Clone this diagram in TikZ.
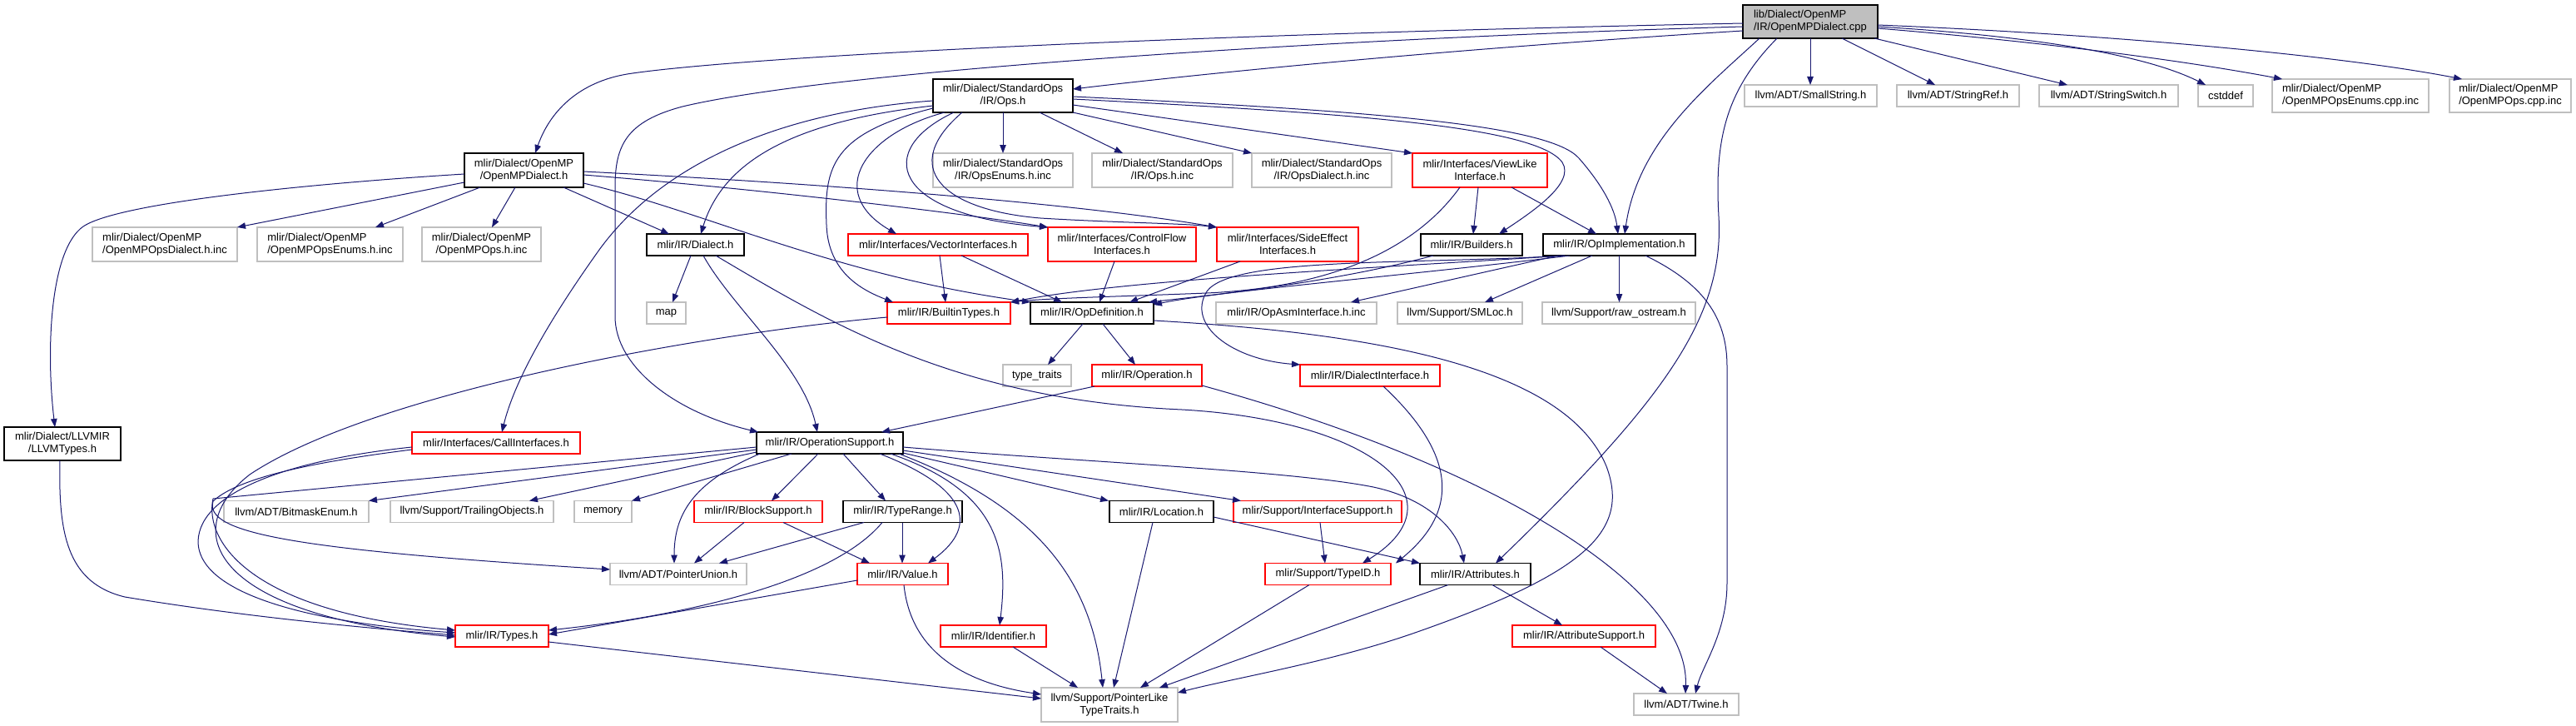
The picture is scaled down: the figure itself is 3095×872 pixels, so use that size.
\documentclass[tikz,border=0pt]{standalone}
\usepackage{fontspec}
\setmainfont{Liberation Sans}
\usetikzlibrary{arrows.meta}
\definecolor{edgeblue}{HTML}{191970}
\definecolor{extgray}{HTML}{BFBFBF}
\definecolor{rootgray}{HTML}{BFBFBF}
\definecolor{truncred}{HTML}{FF0000}
\newcommand\nfs{\fontsize{13}{15}\selectfont}
\begin{document}
\begin{tikzpicture}[x=1pt,y=-1pt,
 nbase/.style={rectangle,inner sep=0pt,outer sep=0pt,font=\nfs,align=center,line width=1.3pt},
 doc/.style={nbase,draw=black},
 trunc/.style={nbase,draw=truncred},
 ext/.style={nbase,draw=extgray},
 root/.style={nbase,draw=black,fill=rootgray},
 e/.style={draw=edgeblue,line width=1pt,-{Triangle[length=10pt,width=7.5pt]}},
 box/.style 2 args={minimum width=#1pt,minimum height=#2pt}
]
\fill[white] (0,0) rectangle (3095,872);
\useasboundingbox (0,0) rectangle (3095,872);

% ---------------- nodes ----------------
\node[root,box={162}{40},align=left] (cpp) at (2175,26) {lib/Dialect/OpenMP\\/IR/OpenMPDialect.cpp};
\node[doc,box={168}{40}] (ops) at (1205,115) {mlir/Dialect/StandardOps\\/IR/Ops.h};
\node[ext,box={159}{26}] (smallstr) at (2175.5,115) {llvm/ADT/SmallString.h};
\node[ext,box={147}{26}] (stringref) at (2352.5,115) {llvm/ADT/StringRef.h};
\node[ext,box={167}{26}] (stringsw) at (2533.5,115) {llvm/ADT/StringSwitch.h};
\node[ext,box={66}{26}] (cstddef) at (2674,115) {cstddef};
\node[ext,box={188}{40},align=left] (enumscpp) at (2824,115) {mlir/Dialect/OpenMP\\/OpenMPOpsEnums.cpp.inc};
\node[ext,box={146}{40},align=left] (opscpp) at (3016,115) {mlir/Dialect/OpenMP\\/OpenMPOps.cpp.inc};
\node[doc,box={143}{41}] (ompdialect) at (629.5,204.5) {mlir/Dialect/OpenMP\\/OpenMPDialect.h};
\node[ext,box={168}{41}] (stdenums) at (1205,204.5) {mlir/Dialect/StandardOps\\/IR/OpsEnums.h.inc};
\node[ext,box={169}{41}] (stdopsinc) at (1396.5,204.5) {mlir/Dialect/StandardOps\\/IR/Ops.h.inc};
\node[ext,box={168}{41}] (stddialinc) at (1588,204.5) {mlir/Dialect/StandardOps\\/IR/OpsDialect.h.inc};
\node[trunc,box={162}{41}] (viewlike) at (1778,204.5) {mlir/Interfaces/ViewLike\\Interface.h};
\node[ext,box={174}{41},align=left] (ompdialinc) at (198,293.5) {mlir/Dialect/OpenMP\\/OpenMPOpsDialect.h.inc};
\node[ext,box={175}{41},align=left] (ompenumsinc) at (396.5,293.5) {mlir/Dialect/OpenMP\\/OpenMPOpsEnums.h.inc};
\node[ext,box={143}{41}] (ompopsinc) at (578.5,293.5) {mlir/Dialect/OpenMP\\/OpenMPOps.h.inc};
\node[doc,box={117}{26}] (dialect) at (835.5,294) {mlir/IR/Dialect.h};
\node[trunc,box={216}{26}] (vector) at (1127,294) {mlir/Interfaces/VectorInterfaces.h};
\node[trunc,box={178}{41}] (controlflow) at (1348,293.5) {mlir/Interfaces/ControlFlow\\Interfaces.h};
\node[trunc,box={170}{41}] (sideeffect) at (1547,293.5) {mlir/Interfaces/SideEffect\\Interfaces.h};
\node[doc,box={122}{26}] (builders) at (1768,294) {mlir/IR/Builders.h};
\node[doc,box={183}{26}] (opimpl) at (1945.5,294) {mlir/IR/OpImplementation.h};
\node[ext,box={47}{26}] (map) at (800.5,376) {map};
\node[trunc,box={148}{26}] (builtin) at (1140,376) {mlir/IR/BuiltinTypes.h};
\node[doc,box={148}{26}] (opdef) at (1312,376) {mlir/IR/OpDefinition.h};
\node[ext,box={193}{26}] (opasm) at (1557.5,376) {mlir/IR/OpAsmInterface.h.inc};
\node[ext,box={150}{26}] (smloc) at (1754,376) {llvm/Support/SMLoc.h};
\node[ext,box={184}{26}] (rawos) at (1945,376) {llvm/Support/raw\_ostream.h};
\node[ext,box={82}{26}] (typetraits) at (1246,451) {type\_traits};
\node[trunc,box={132}{26}] (operation) at (1378,451) {mlir/IR/Operation.h};
\node[trunc,box={168}{26}] (dialiface) at (1646,451) {mlir/IR/DialectInterface.h};
\node[doc,box={140}{40}] (llvmtypes) at (75,533) {mlir/Dialect/LLVMIR\\/LLVMTypes.h};
\node[trunc,box={202}{26}] (callif) at (596,532) {mlir/Interfaces/CallInterfaces.h};
\node[doc,box={176}{26}] (opsupport) at (997,532) {mlir/IR/OperationSupport.h};
\node[ext,box={174}{26}] (bitmask) at (356,614.5) {llvm/ADT/BitmaskEnum.h};
\node[ext,box={196}{26}] (trailing) at (567,614.5) {llvm/Support/TrailingObjects.h};
\node[ext,box={69}{26}] (memory) at (724.5,614.5) {memory};
\node[trunc,box={154}{26}] (blocksupport) at (911,614.5) {mlir/IR/BlockSupport.h};
\node[doc,box={143}{26}] (typerange) at (1084.5,614.5) {mlir/IR/TypeRange.h};
\node[doc,box={125}{26}] (location) at (1395.5,614.5) {mlir/IR/Location.h};
\node[trunc,box={202}{26}] (ifacesupport) at (1583,614.5) {mlir/Support/InterfaceSupport.h};
\node[ext,box={164}{26}] (pointerunion) at (815,689.5) {llvm/ADT/PointerUnion.h};
\node[trunc,box={109}{26}] (value) at (1084.5,689.5) {mlir/IR/Value.h};
\node[trunc,box={151}{26}] (typeid) at (1595.5,689.5) {mlir/Support/TypeID.h};
\node[doc,box={133}{26}] (attributes) at (1772.5,689.5) {mlir/IR/Attributes.h};
\node[trunc,box={112}{26}] (types) at (603,764) {mlir/IR/Types.h};
\node[trunc,box={127}{26}] (identifier) at (1193.5,764) {mlir/IR/Identifier.h};
\node[trunc,box={172}{26}] (attrsupport) at (1903,764) {mlir/IR/AttributeSupport.h};
\node[ext,box={164}{41}] (ptrlike) at (1333,846.5) {llvm/Support/PointerLike\\TypeTraits.h};
\node[ext,box={126}{26}] (twine) at (2026,846) {llvm/ADT/Twine.h};

% ---------------- edges: cpp ----------------
\draw[e] (cpp.west |- 0,28) .. controls (1400,42) and (900,68) .. (760,88) .. controls (700,96) and (662,130) .. (ompdialect.north -| 643,0);
\draw[e] (cpp.west |- 0,37) .. controls (1800,55) and (1500,82) .. (ops.east |- 0,107);
\draw[e] (cpp.west |- 0,32) .. controls (1600,46) and (1000,85) .. (820,128) .. controls (752,146) and (739,175) .. (739,225) -- (739,380) .. controls (739,440) and (810,495) .. (opsupport.north -| 911,0);
\draw[e] (cpp.south -| 2175,0) -- (smallstr.north -| 2175,0);
\draw[e] (cpp.south -| 2213,0) -- (stringref.north -| 2325,0);
\draw[e] (cpp.south -| 2252,0) -- (stringsw.north -| 2484,0);
\draw[e] (cpp.east |- 0,32) .. controls (2420,42) and (2570,62) .. (cstddef.north -| 2650,0);
\draw[e] (cpp.east |- 0,34) .. controls (2450,50) and (2620,72) .. (enumscpp.north -| 2742,0);
\draw[e] (cpp.east |- 0,30) .. controls (2550,42) and (2820,68) .. (opscpp.north -| 2958,0);
\draw[e] (cpp.south -| 2114,0) .. controls (2050,105) and (1968,170) .. (opimpl.north -| 1952,0);
\draw[e] (cpp.south -| 2135,0) .. controls (2072,110) and (2060,170) .. (2065,260) .. controls (2072,380) and (2000,480) .. (attributes.north -| 1797,0);

% ---------------- edges: Ops.h ----------------
\draw[e] (ops.south) -- (stdenums.north);
\draw[e] (ops.south -| 1249,0) -- (stdopsinc.north -| 1349,0);
\draw[e] (ops.south east) -- (stddialinc.north west);
\draw[e] (ops.east |- 0,126) -- (viewlike.north west);
\draw[e] (ops.east |- 0,119) .. controls (1600,135) and (1845,150) .. (1877,195) .. controls (1893,220) and (1840,255) .. (builders.north -| 1801,0);
\draw[e] (ops.east |- 0,116) .. controls (1650,133) and (1862,150) .. (1897,190) .. controls (1925,222) and (1940,250) .. (opimpl.north -| 1944,0);
\draw[e] (ops.south -| 1135,0) .. controls (1040,160) and (990,230) .. (vector.north -| 1077,0);
\draw[e] (ops.south -| 1146,0) .. controls (1050,180) and (1070,258) .. (controlflow.north west);
\draw[e] (ops.south -| 1156,0) .. controls (1080,200) and (1130,252) .. (1250,262) .. controls (1350,268) and (1420,268) .. (sideeffect.north west);
\draw[e] (ops.west |- 0,130) .. controls (1000,160) and (990,200) .. (993,270) .. controls (995,330) and (1040,350) .. (builtin.north -| 1073,0);
\draw[e] (ops.west |- 0,127) .. controls (960,145) and (870,190) .. (dialect.north -| 842,0);
\draw[e] (ops.west |- 0,121) .. controls (950,133) and (800,190) .. (720,300) .. controls (670,370) and (620,450) .. (callif.north -| 603,0);

% ---------------- edges: OpenMPDialect.h ----------------
\draw[e] (ompdialect.west |- 0,209) .. controls (350,222) and (140,245) .. (100,272) .. controls (60,300) and (55,420) .. (llvmtypes.north -| 66,0);
\draw[e] (ompdialect.west |- 0,219) -- (ompdialinc.north east);
\draw[e] (ompdialect.south -| 577,0) -- (ompenumsinc.north -| 451,0);
\draw[e] (ompdialect.south -| 619,0) -- (ompopsinc.north -| 591,0);
\draw[e] (ompdialect.south -| 677,0) -- (dialect.north -| 804,0);
\draw[e] (ompdialect.east |- 0,210) .. controls (900,226) and (1150,255) .. (controlflow.north west);
\draw[e] (ompdialect.east |- 0,206) .. controls (1000,221) and (1300,245) .. (sideeffect.north west);
\draw[e] (ompdialect.east |- 0,220) .. controls (850,255) and (1000,330) .. (opdef.north west);

% ---------------- edges: misc upper ----------------
\draw[e] (llvmtypes.south -| 72,0) .. controls (70,640) and (80,700) .. (150,717) .. controls (300,742) and (450,755) .. (types.west |- 0,763);
\draw[e] (dialect.south -| 830,0) -- (map.north -| 808,0);
\draw[e] (dialect.south -| 845,0) .. controls (880,370) and (965,440) .. (opsupport.north -| 982,0);
\draw[e] (dialect.south -| 860,0) .. controls (1000,390) and (1150,480) .. (1420,492) .. controls (1650,505) and (1760,600) .. (typeid.north -| 1637,0);
\draw[e] (vector.south -| 1129,0) -- (builtin.north -| 1136,0);
\draw[e] (vector.south -| 1155,0) -- (opdef.north -| 1276,0);
\draw[e] (controlflow.south -| 1339,0) -- (opdef.north -| 1321,0);
\draw[e] (sideeffect.south -| 1490,0) -- (opdef.north -| 1357,0);
\draw[e] (viewlike.south -| 1776,0) -- (builders.north -| 1770,0);
\draw[e] (viewlike.south -| 1816,0) -- (opimpl.north -| 1918,0);
\draw[e] (viewlike.south -| 1754,0) .. controls (1700,300) and (1600,345) .. (1450,352) .. controls (1350,356) and (1260,358) .. (builtin.north east);
\draw[e] (builders.south -| 1722,0) .. controls (1600,340) and (1450,355) .. (opdef.north -| 1380,0);
\draw[e] (opimpl.south -| 1886,0) .. controls (1700,330) and (1460,350) .. (opdef.east |- 0,366);
\draw[e] (opimpl.south -| 1880,0) .. controls (1650,322) and (1350,336) .. (builtin.north east);
\draw[e] (opimpl.south -| 1880,0) .. controls (1700,318) and (1480,308) .. (1450,350) .. controls (1425,390) and (1480,432) .. (dialiface.north west);
\draw[e] (opimpl.south -| 1872,0) -- (opasm.north -| 1623,0);
\draw[e] (opimpl.south -| 1913,0) -- (smloc.north -| 1784,0);
\draw[e] (opimpl.south) -- (rawos.north -| 1945.5,0);
\draw[e] (opimpl.south -| 1977,0) .. controls (2045,340) and (2075,380) .. (2075,440) -- (2075,700) .. controls (2075,760) and (2045,800) .. (twine.north -| 2037,0);
\draw[e] (opdef.south -| 1301,0) -- (typetraits.north -| 1259,0);
\draw[e] (opdef.south -| 1325,0) -- (operation.north -| 1364,0);
\draw[e] (opdef.east |- 0,385) .. controls (1650,400) and (1880,440) .. (1930,560) .. controls (1960,640) and (1900,690) .. (1700,760) .. controls (1600,795) and (1480,815) .. (ptrlike.east |- 0,832);
\draw[e] (operation.south -| 1315,0) -- (opsupport.north -| 1059,0);
\draw[e] (operation.east |- 0,463) .. controls (1780,555) and (2030,700) .. (twine.north -| 2025,0);
\draw[e] (dialiface.south -| 1662,0) .. controls (1765,560) and (1740,625) .. (typeid.north -| 1677,0);

% ---------------- edges: OperationSupport.h ----------------
\draw[e] (opsupport.west |- 0,540) -- (bitmask.north east);
\draw[e] (opsupport.west |- 0,543) -- (trailing.north -| 636,0);
\draw[e] (opsupport.south -| 951,0) -- (memory.north east);
\draw[e] (opsupport.south -| 983,0) -- (blocksupport.north -| 927,0);
\draw[e] (opsupport.south -| 913,0) .. controls (830,580) and (810,620) .. (pointerunion.north -| 810,0);
\draw[e] (opsupport.west |- 0,537) -- (256,599) .. controls (245,650) and (300,735) .. (types.west |- 0,757);
\draw[e] (opsupport.south -| 1013,0) -- (typerange.north -| 1064,0);
\draw[e] (opsupport.south -| 1057,0) .. controls (1160,585) and (1178,630) .. (value.north -| 1115,0);
\draw[e] (opsupport.south -| 1070,0) .. controls (1200,590) and (1212,660) .. (identifier.north -| 1201,0);
\draw[e] (opsupport.south -| 1080,0) .. controls (1250,610) and (1312,700) .. (ptrlike.north -| 1325,0);
\draw[e] (opsupport.east |- 0,544) -- (location.north -| 1332,0);
\draw[e] (opsupport.east |- 0,541) -- (ifacesupport.north -| 1491,0);
\draw[e] (opsupport.east |- 0,537) .. controls (1300,555) and (1550,565) .. (1650,585) .. controls (1720,600) and (1752,640) .. (attributes.north -| 1759,0);

% ---------------- edges: lower ----------------
\draw[e] (callif.west |- 0,540) .. controls (400,552) and (290,570) .. (256,602) .. controls (245,640) and (350,660) .. (pointerunion.west |- 0,684);
\draw[e] (callif.west |- 0,537) .. controls (350,552) and (240,590) .. (238,650) .. controls (238,720) and (400,750) .. (types.west |- 0,760);
\draw[e] (builtin.west |- 0,381) .. controls (850,400) and (450,470) .. (300,570) .. controls (210,640) and (260,740) .. (types.west |- 0,765);
\draw[e] (ifacesupport.south -| 1586,0) -- (typeid.north -| 1592,0);
\draw[e] (typerange.south -| 1038,0) -- (pointerunion.north -| 864,0);
\draw[e] (typerange.south -| 1084,0) -- (value.north -| 1084,0);
\draw[e] (typerange.south -| 1060,0) .. controls (1000,700) and (820,740) .. (types.east |- 0,757);
\draw[e] (blocksupport.south -| 941,0) -- (value.north -| 1045,0);
\draw[e] (blocksupport.south -| 894,0) -- (pointerunion.north -| 834,0);
\draw[e] (value.west |- 0,697) -- (types.east |- 0,762);
\draw[e] (value.south -| 1086,0) .. controls (1095,790) and (1170,822) .. (ptrlike.west |- 0,834);
\draw[e] (location.south -| 1385,0) -- (ptrlike.north -| 1338,0);
\draw[e] (location.east |- 0,621) -- (attributes.north west);
\draw[e] (typeid.south -| 1573,0) -- (ptrlike.north -| 1370,0);
\draw[e] (attributes.south -| 1740,0) -- (ptrlike.north -| 1393,0);
\draw[e] (attributes.south -| 1793,0) -- (attrsupport.north -| 1877,0);
\draw[e] (attrsupport.south -| 1923,0) -- (twine.north -| 2003,0);
\draw[e] (identifier.south -| 1217,0) -- (ptrlike.north -| 1295,0);
\draw[e] (types.east |- 0,771) -- (ptrlike.west |- 0,839);
\end{tikzpicture}
\end{document}
